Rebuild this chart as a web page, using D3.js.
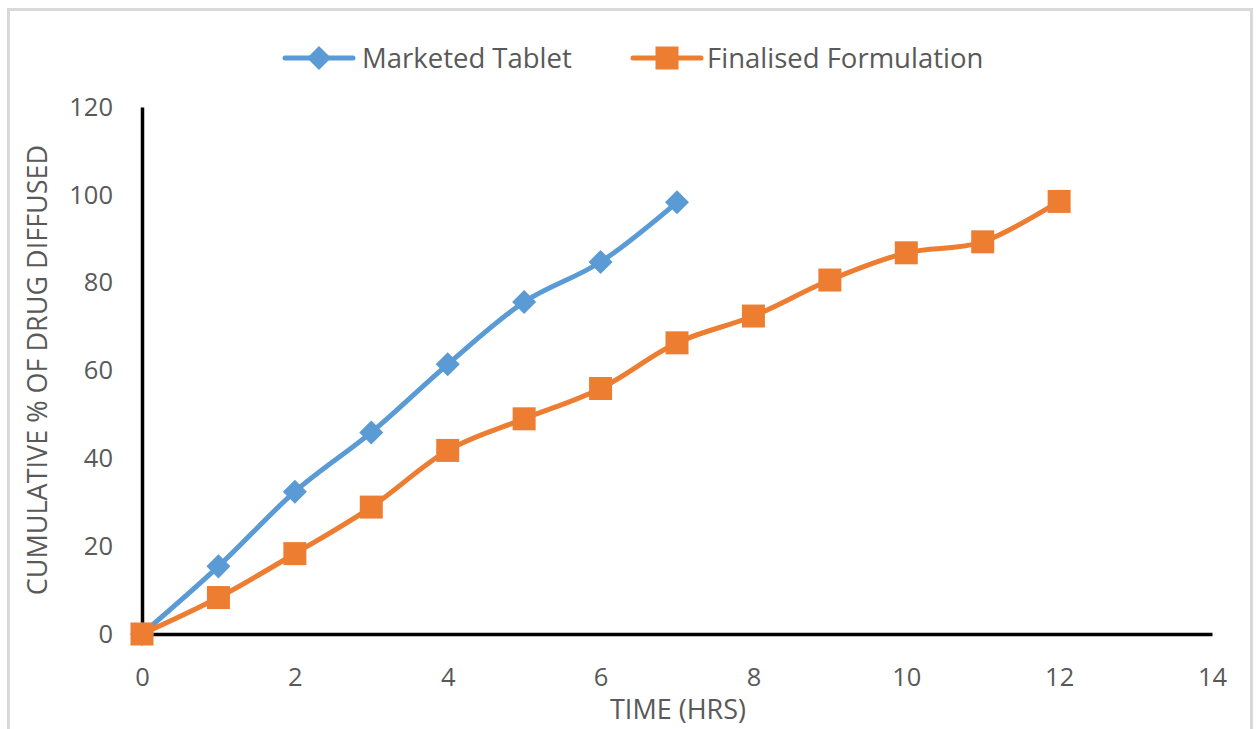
<!DOCTYPE html>
<html>
<head>
<meta charset="utf-8">
<script src="https://cdn.jsdelivr.net/npm/d3@7"></script>
<style>
  html, body { margin: 0; padding: 0; background: #fff; }
  svg { display: block; }
  text { font-family: "Open Sans", sans-serif; fill: #595959; }
</style>
</head>
<body>
<svg id="chart" width="1258" height="729"></svg>
<script>
// Time points (hours) and cumulative % of drug diffused
const timeMarketed = [0, 1, 2, 3, 4, 5, 6, 7];
const marketedTablet = [0, 15.4, 32.4, 45.9, 61.4, 75.6, 84.7, 98.3];
const timeFinalised = [0, 1, 2, 3, 4, 5, 6, 7, 8, 9, 10, 11, 12];
const finalisedFormulation = [0, 8.3, 18.3, 28.9, 41.8, 49.0, 55.9, 66.3, 72.4, 80.6, 86.8, 89.3, 98.5];

const xTicks = [0, 2, 4, 6, 8, 10, 12, 14];
const yTicks = [0, 20, 40, 60, 80, 100, 120];

const seriesNames = ["Marketed Tablet", "Finalised Formulation"];
const seriesColors = ["#5B9BD5", "#ED7D31"];

const svg = d3.select("#chart");

// outer chart border
svg.append("rect")
  .attr("x", 8.5).attr("y", 9.5)
  .attr("width", 1243).attr("height", 730)
  .attr("fill", "none").attr("stroke", "#d9d9d9").attr("stroke-width", 3);

const x = d3.scaleLinear().domain([0, 14]).range([142, 1212]);
const y = d3.scaleLinear().domain([0, 120]).range([634, 107]);

// axes
const xAxis = svg.append("g")
  .attr("transform", `translate(0,${y(0)})`)
  .call(d3.axisBottom(x).tickValues(xTicks).tickSize(0).tickPadding(30));
const yAxis = svg.append("g")
  .attr("transform", `translate(${x(0)},0)`)
  .call(d3.axisLeft(y).tickValues(yTicks).tickSize(0).tickPadding(29));

[xAxis, yAxis].forEach(g => {
  g.select(".domain").attr("stroke", "#000").attr("stroke-width", 3.5);
  g.selectAll("text")
    .attr("font-family", "'Open Sans', sans-serif")
    .attr("font-size", 25.5)
    .attr("fill", "#595959");
});
xAxis.selectAll("text").attr("dy", "0.35em").attr("y", 43);

// axis titles
svg.append("text")
  .attr("x", 678).attr("y", 719)
  .attr("text-anchor", "middle")
  .attr("font-size", 27)
  .text("TIME (HRS)");
svg.append("text")
  .attr("transform", "translate(47,370) rotate(-90)")
  .attr("text-anchor", "middle")
  .attr("font-size", 27)
  .text("CUMULATIVE % OF DRUG DIFFUSED");

const line = d3.line()
  .x(d => x(d[0]))
  .y(d => y(d[1]))
  .curve(d3.curveCatmullRom.alpha(0));

const diamond = d3.symbol().type(d3.symbolSquare).size(17 * 17);
const square = d3.symbol().type(d3.symbolSquare).size(23 * 23);

const dataMarketed = timeMarketed.map((t, i) => [t, marketedTablet[i]]);
const dataFinalised = timeFinalised.map((t, i) => [t, finalisedFormulation[i]]);

// Marketed Tablet
svg.append("path")
  .datum(dataMarketed)
  .attr("d", line)
  .attr("fill", "none")
  .attr("stroke", seriesColors[0])
  .attr("stroke-width", 5)
  .attr("stroke-linejoin", "round");
svg.append("g").selectAll("path")
  .data(dataMarketed)
  .join("path")
  .attr("d", diamond)
  .attr("transform", d => `translate(${x(d[0])},${y(d[1])}) rotate(45)`)
  .attr("fill", seriesColors[0]);

// Finalised Formulation
svg.append("path")
  .datum(dataFinalised)
  .attr("d", line)
  .attr("fill", "none")
  .attr("stroke", seriesColors[1])
  .attr("stroke-width", 5)
  .attr("stroke-linejoin", "round");
svg.append("g").selectAll("path")
  .data(dataFinalised)
  .join("path")
  .attr("d", square)
  .attr("transform", d => `translate(${x(d[0])},${y(d[1])})`)
  .attr("fill", seriesColors[1]);

// legend
const legendItems = [
  { name: seriesNames[0], color: seriesColors[0], x0: 285, tx: 77, marker: diamond, rot: 45 },
  { name: seriesNames[1], color: seriesColors[1], x0: 633, tx: 74, marker: square, rot: 0 }
];
const legend = svg.append("g");
legendItems.forEach(item => {
  const g = legend.append("g").attr("transform", `translate(${item.x0},58)`);
  g.append("line")
    .attr("x1", 0).attr("x2", 68).attr("y1", 0).attr("y2", 0)
    .attr("stroke", item.color).attr("stroke-width", 5)
    .attr("stroke-linecap", "round");
  g.append("path")
    .attr("d", item.marker)
    .attr("transform", `translate(34,0) rotate(${item.rot})`)
    .attr("fill", item.color);
  g.append("text")
    .attr("x", item.tx).attr("y", 0).attr("dy", "0.35em")
    .attr("font-size", 27.5)
    .text(item.name);
});
</script>
</body>
</html>
